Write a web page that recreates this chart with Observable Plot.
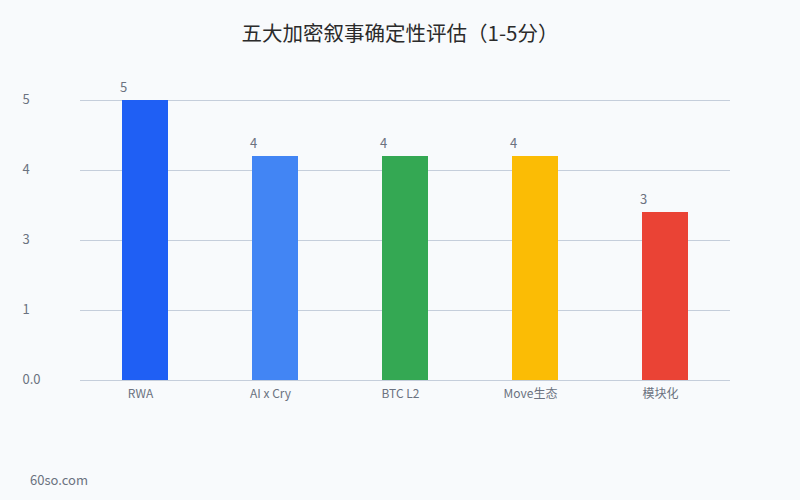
<!DOCTYPE html>
<html>
<head>
<meta charset="utf-8">
<script src="https://cdn.jsdelivr.net/npm/d3@7"></script>
<script src="https://cdn.jsdelivr.net/npm/@observablehq/plot@0.6"></script>
<style>
  html, body { margin: 0; padding: 0; background: #f8fafc; width: 800px; height: 500px; overflow: hidden; position: relative;
    font-family: "Noto Sans CJK SC", "Noto Sans", sans-serif; }
  #title { height: 64px; line-height: 64px; text-align: center; font-size: 20.5px; color: #2b2b2b; }
  #footer { position: absolute; left: 30px; top: 470px; font-size: 13px; color: #6b7280; }
</style>
</head>
<body>
<div id="title">五大加密叙事确定性评估（1-5分）</div>
<div id="chart"></div>
<div id="footer">60so.com</div>
<script>
const categories = ["RWA", "AI x Cry", "BTC L2", "Move生态", "模块化"];
const values = [5, 4, 4, 4, 3];
const colors = ["#1f5ff4", "#4285f4", "#34a853", "#fbbc05", "#ea4335"];
const yTicks = [0, 1.25, 2.5, 3.75, 5];
const yTickLabels = ["0.0", "1", "3", "4", "5"];

const data = categories.map((c, i) => ({category: c, value: values[i], color: colors[i]}));

const chart = Plot.plot({
  width: 800,
  height: 380,
  marginTop: 36,
  marginBottom: 64,
  marginLeft: 80,
  marginRight: 70,
  style: {background: "transparent", fontFamily: "'Noto Sans CJK SC', 'Noto Sans', sans-serif"},
  x: {domain: categories, padding: 0, label: null},
  y: {domain: [0, 5], label: null},
  marks: [
    Plot.gridY(yTicks, {stroke: "#c5cedb", strokeOpacity: 1, strokeWidth: 1}),
    Plot.barY(data, {x: "category", y: "value", fill: "color", insetLeft: 42, insetRight: 42}),
    Plot.text(data, {x: "category", y: "value", text: d => String(d.value), dx: -22, dy: -13, fill: "#6b7280", fontSize: 13}),
    Plot.axisY({ticks: yTicks, tickFormat: (d, i) => yTickLabels[i], tickSize: 0, textAnchor: "start", dx: -49, dy: -1, fontSize: 13, fill: "#6b7280", label: null}),
    Plot.axisX({tickSize: 0, tickPadding: 9, dx: -5, fontSize: 12, fill: "#6b7280", label: null})
  ]
});
document.getElementById("chart").appendChild(chart);
</script>
</body>
</html>
